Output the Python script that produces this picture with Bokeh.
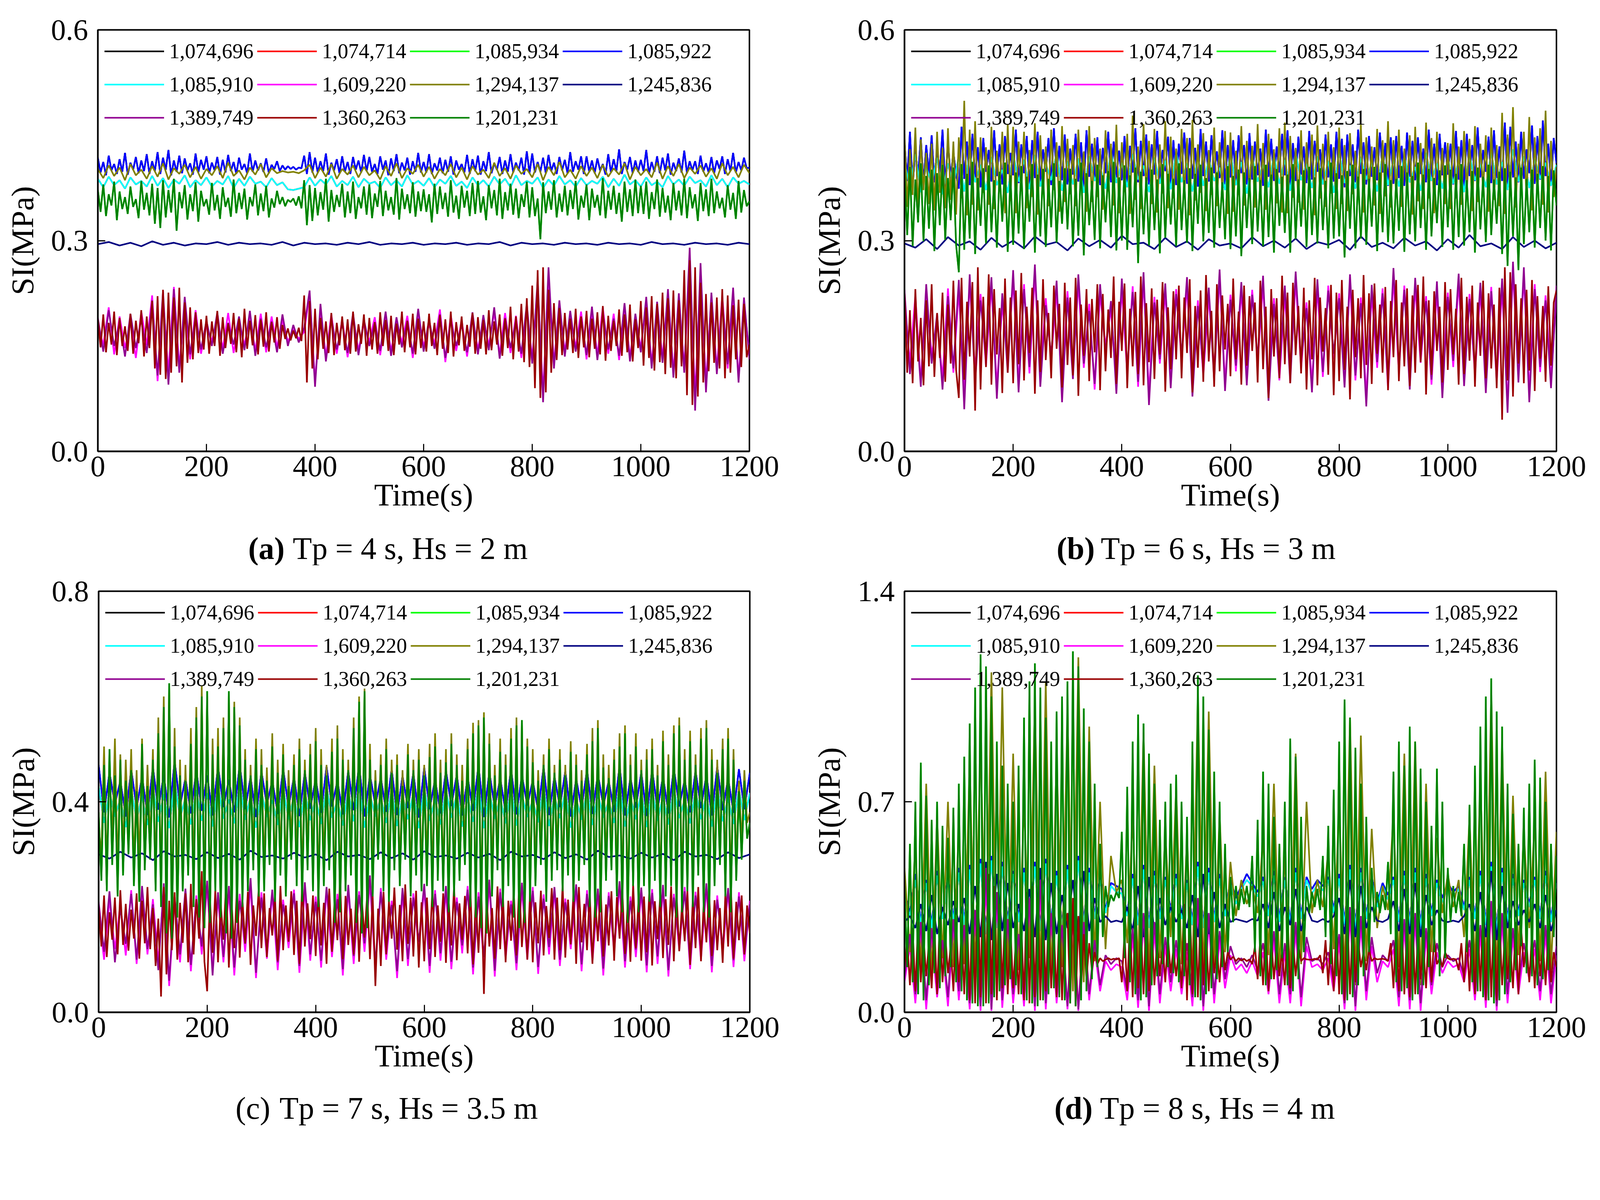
import numpy as np
from bokeh.plotting import figure
from bokeh.models import Range1d, Legend, LegendItem, Label, PrintfTickFormatter, FixedTicker
from bokeh.layouts import column, row
from bokeh.embed import file_html
from bokeh.resources import INLINE

FONT = "Liberation Serif"
S = 0.947  # overall layout scale


def sz(v):
    return int(round(v * S))


def fpx(v):
    return f"{v * S:.0f}px"


# element ids (legend order) and colours
ELEMENTS = ["1,074,696", "1,074,714", "1,085,934", "1,085,922", "1,085,910", "1,609,220",
            "1,294,137", "1,245,836", "1,389,749", "1,360,263", "1,201,231"]
COLORS = ["#000000", "#FF0000", "#00FF00", "#0000FF", "#00FFFF", "#FF00FF",
          "#808000", "#000080", "#900090", "#990000", "#008000"]

X_TICKS = [0, 200, 400, 600, 800, 1000, 1200]

# ---------------- values, SI in kPa (0.001 MPa) ----------------
# Each list is evenly spaced over 0-1200 s.
# (a) Tp = 4 s, Hs = 2 m
a_blue = [418,397,412,393,421,400,409,395,416,398,425,394,411,401,419,396,414,399,423,395,
          413,399,426,395,418,401,429,393,414,398,421,396,417,400,410,394,424,397,415,401,
          420,396,411,400,419,394,415,397,422,399,412,395,418,401,409,396,424,398,414,400,
          410,398,417,396,408,402,413,399,407,401,406,402,405,401,404,403,421,395,426,397,
          418,397,413,399,424,394,411,400,416,396,420,398,412,395,419,401,414,397,422,399,
          419,398,409,395,420,401,414,393,417,399,423,396,411,400,418,394,413,398,425,397,
          412,397,423,395,410,400,418,396,415,398,420,394,414,401,409,397,422,395,416,399,
          421,394,413,399,426,396,410,401,419,395,414,398,423,397,411,400,418,394,427,396,
          424,397,412,398,418,396,422,399,411,395,419,400,415,396,426,398,413,401,420,395,
          420,398,414,396,417,400,409,394,423,397,416,399,430,395,412,401,419,396,414,398,
          415,399,429,395,412,398,420,396,418,400,424,394,411,399,417,397,428,396,413,400,
          413,395,421,398,410,397,419,396,414,402,420,395,416,399,425,397,412,400,418,403,
          404]
a_olive = [402,389,407,392,404,386,409,393,401,388,406,
           391,410,387,403,395,408,390,405,388,402,
           393,406,389,411,392,400,387,404,394,409,
           390,403,396,399,397,398,396,400,408,389,
           404,391,409,388,402,394,407,390,405,393,
           400,387,406,392,410,389,403,395,408,391,
           405,388,402,393,409,390,404,387,406,394,
           401,389,411,392,403,388,407,395,402,390,
           409,386,405,393,412,390,401,388,406,392,
           404,389,408,391,403,394,410,387,405,393,
           402,390,411,388,406,392,409,389,404,395,
           407,391,403,388,410,393,405,390,408,396]
a_cyan = [388,376,391,379,386,374,390,380,385,377,392,
          378,389,375,387,381,393,376,386,379,390,
          377,385,380,392,375,388,378,391,381,384,
          376,389,379,383,373,372,374,376,390,378,
          387,380,392,377,385,379,391,376,388,381,
          384,375,390,379,386,377,393,380,385,378,
          389,376,387,381,392,378,384,375,390,379,
          386,377,391,380,388,376,393,379,385,381,
          390,375,387,378,392,380,386,377,389,379,
          385,381,391,376,388,378,394,380,386,377,
          390,379,384,376,392,380,387,378,391,382,
          386,377,393,379,388,376,390,381,385,380]
a_green = [372,341,380,335,366,350,384,329,370,345,362,338,377,348,359,332,385,344,368,336,
           381,324,375,318,386,333,372,340,388,314,369,346,379,330,366,342,383,327,371,349,
           359,337,382,343,365,331,376,348,361,334,387,339,368,345,374,330,362,349,380,336,
           367,342,378,333,360,347,371,352,362,349,358,355,360,350,363,346,386,322,379,328,
           375,336,369,344,388,327,372,341,365,348,381,333,370,339,384,331,362,346,377,337,
           380,332,367,348,385,335,371,343,362,337,389,330,374,345,366,339,383,334,370,342,
           373,341,366,326,381,338,377,345,368,334,386,340,364,331,378,347,371,335,382,338,
           385,340,363,329,379,346,372,336,388,331,369,343,381,337,374,332,366,348,384,333,
           376,335,360,302,383,339,370,344,386,333,367,341,378,336,372,345,385,330,364,347,
           380,329,374,347,365,336,389,332,371,344,378,338,368,327,384,341,373,335,387,339,
           378,338,384,331,369,345,387,334,375,340,364,329,382,343,371,336,388,332,376,346,
           366,328,382,342,373,335,388,339,370,346,361,333,379,344,368,331,385,340,372,349,
           356]
a_navy = [295,298,293,297,292,299,294,297,293,296,295,298,294,297,295,296,294,298,293,297,
          295,296,294,297,295,298,294,296,295,297,294,296,295,297,294,296,295,298,293,297,
          295,296,294,297,295,296,294,297,295,296,294,298,295,296,294,297,295,296,294,297,295]
a_purple = [190,142,201,150,184,135,196,147,188,140,215,
            108,228,95,231,112,220,138,193,145,186,
            150,198,139,183,152,192,144,200,136,189,
            148,185,141,195,150,180,155,176,229,92,
            210,128,190,145,182,140,197,137,188,150,
            184,143,199,136,191,148,186,139,203,142,
            188,146,195,133,187,150,180,141,198,138,
            194,144,205,132,190,147,186,139,210,125,
            245,70,262,118,215,135,200,142,192,137,
            206,130,198,145,189,136,211,128,196,141,
            220,118,213,126,231,105,225,112,290,58,
            268,84,226,110,215,124,233,98,219,131]
a_wine = [188,148,195,141,183,152,199,137,190,150,178,143,196,139,186,154,201,135,192,147,
          214,118,221,109,230,103,226,112,219,121,233,98,212,126,205,131,198,140,188,145,
          193,139,185,150,200,136,191,147,182,153,197,141,189,134,203,146,186,151,194,138,
          187,149,198,142,184,155,191,146,180,160,175,158,172,161,176,157,222,98,214,118,
          203,131,190,146,185,140,197,137,183,151,192,144,188,139,199,142,181,153,195,136,
          190,145,184,139,198,150,187,143,193,137,182,152,199,141,186,148,196,138,189,147,
          185,142,196,150,183,137,194,146,188,140,199,135,184,151,192,143,180,149,197,139,
          191,146,187,138,201,144,185,152,195,136,189,147,206,131,192,142,210,127,218,120,
          236,90,258,76,262,84,230,112,211,130,204,137,197,145,189,140,203,133,192,148,
          200,134,189,146,198,138,207,129,193,143,186,150,202,136,195,141,209,128,188,147,
          214,122,205,133,221,115,210,127,226,110,218,119,229,104,215,121,258,80,272,66,
          262,78,240,98,224,114,212,126,219,118,231,104,222,112,208,131,216,120,210,134,
          152]
a_magenta = [178,152,205,138,192,147,183,133,199,151,222,
             100,218,112,234,120,209,131,201,139,179,
             157,190,146,197,140,184,151,193,143,196,
             141,192,148,187,156,174,160,170,224,99,
             202,135,195,139,188,134,190,144,181,156,
             191,137,192,143,184,155,193,133,196,149,
             181,153,202,127,194,143,187,135,191,145,
             187,151,198,138,197,140,193,133,203,132,
             236,82,250,125,208,142,193,148,199,131,
             199,137,205,139,196,130,204,135,189,147,
             213,125,206,133,224,112,218,119,262,80,
             251,97,219,117,222,118,226,105,212,138]

# (b) Tp = 6 s, Hs = 3 m
b_blue = [440,385,455,378,428,392,447,381,436,395,450,383,431,397,458,376,442,389,426,394,
          374,462,388,441,379,452,390,433,376,446,398,429,384,457,392,437,380,449,395,425,
          393,458,382,437,396,449,377,443,389,455,384,430,398,446,379,460,391,435,386,451,
          380,431,394,452,384,440,375,457,391,438,388,447,379,432,396,455,383,441,390,428,
          386,449,378,435,397,460,383,442,392,451,380,437,394,456,387,429,399,448,376,443,
          379,438,395,454,381,446,388,432,377,459,392,441,384,450,396,427,389,457,380,436,
          390,443,384,450,396,436,380,453,387,441,393,431,378,458,391,445,385,434,397,452,
          393,457,379,439,385,448,394,434,382,456,387,442,398,430,381,451,390,437,384,455,
          388,445,376,451,392,437,383,458,395,440,380,449,391,433,386,454,397,439,378,447,
          381,449,389,435,378,454,391,442,386,447,395,431,383,458,390,438,379,452,393,440,
          394,438,380,456,387,443,377,452,392,436,385,461,390,429,398,448,382,457,389,434,
          385,468,379,462,390,441,383,455,388,430,396,464,381,449,387,471,392,438,380,446,
          410]
b_olive = [452,348,430,365,461,340,444,372,425,352,438,343,455,368,432,346,460,358,441,337,
           447,360,499,336,458,351,470,343,447,368,433,351,462,345,428,370,455,339,466,356,
           462,339,441,370,455,346,429,362,467,337,450,366,434,349,458,372,440,341,463,355,
           445,366,436,349,458,374,427,341,463,355,446,362,431,344,457,370,438,350,465,339,
           440,369,452,338,478,358,434,345,466,371,442,352,459,340,437,367,470,346,448,360,
           431,344,459,363,446,336,472,357,437,368,453,342,429,365,461,349,440,372,456,338,
           454,341,428,365,463,350,442,372,435,347,466,358,439,344,452,369,430,353,460,340,
           468,339,449,361,432,354,457,344,440,373,451,336,464,360,438,348,455,367,433,345,
           461,352,436,342,453,366,428,358,465,340,447,371,434,350,459,338,443,363,470,347,
           443,363,458,348,431,371,450,337,462,356,439,345,468,360,446,339,455,369,432,352,
           439,345,467,360,434,351,456,369,445,342,463,355,438,372,450,341,461,358,436,349,
           482,338,451,364,490,347,438,372,455,358,476,343,447,366,460,351,485,340,442,362,
           405]
b_cyan = [412,375,423,369,405,381,418,366,410,378,421,
          370,426,383,408,372,419,379,401,368,424,
          384,415,373,422,377,409,386,425,371,413,
          380,417,368,420,385,406,374,427,382,411,
          376,423,387,407,369,418,381,414,373,426,
          383,410,370,421,378,416,385,404,372,425,
          379,412,367,419,384,408,376,422,381,415,
          371,424,386,409,375,420,380,413,368,427,
          382,407,374,418,387,411,370,423,379,416,
          377,421,383,405,371,425,385,410,374,418,
          381,414,369,422,386,409,376,426,380,412,
          372,430,384,420,375,416,388,411,378,408]
b_green = [398,308,405,292,387,326,410,299,392,317,401,285,396,322,408,301,389,329,404,294,
           255,409,287,395,303,412,281,389,321,403,296,407,312,386,290,398,327,411,284,393,
           294,397,310,406,288,391,327,409,283,394,306,402,291,388,319,410,297,385,324,403,
           316,402,292,388,307,411,279,396,322,385,301,408,289,393,326,399,305,412,286,390,
           300,407,287,393,319,404,268,398,309,390,293,401,315,387,282,409,304,395,323,388,
           292,410,315,386,297,403,285,395,324,408,299,389,311,404,290,397,318,383,302,406,
           288,392,306,401,278,397,318,389,295,406,313,386,292,408,305,394,283,402,321,391,
           311,394,283,409,302,387,320,400,291,405,308,390,296,403,315,385,289,411,303,396,
           306,393,276,399,317,408,289,391,303,402,294,388,320,405,285,397,312,409,298,386,
           296,388,314,406,284,397,309,392,299,411,318,394,287,402,306,389,325,400,291,407,
           319,401,287,395,305,409,293,386,312,399,283,404,316,391,298,408,308,387,324,398,
           281,403,264,398,306,390,258,404,295,388,312,401,290,395,318,406,300,392,286,400,
           350]
b_navy = [296,290,302,288,305,293,299,287,304,291,300,289,306,294,298,286,303,292,301,290,
          307,295,297,288,304,291,299,287,302,293,296,289,305,292,300,290,303,288,298,294,
          301,287,306,291,297,289,304,293,299,286,302,290,308,292,296,288,305,291,300,289,297]
b_purple = [230,110,205,92,238,125,196,88,221,118,244,
            60,252,98,215,130,248,75,225,112,258,
            84,231,120,266,92,208,136,243,70,219,
            103,252,125,200,96,238,140,214,82,246,
            118,227,99,255,66,212,131,239,90,224,
            137,248,78,207,115,233,101,259,86,216,
            122,241,94,223,133,250,72,210,109,236,
            97,256,126,204,84,245,113,229,139,218,
            91,252,108,211,64,237,127,225,95,261,
            119,230,88,247,134,214,102,242,76,220,
            129,253,93,217,116,240,83,228,106,246,
            55,270,98,262,70,231,120,215,90,236]
b_wine = [224,112,201,97,231,128,190,94,215,121,238,106,197,133,226,99,209,125,243,116,
          76,247,102,213,135,241,58,262,88,220,120,252,95,231,138,204,83,246,112,219,
          97,229,124,254,101,206,140,233,82,215,113,245,130,197,104,236,146,210,91,240,
          123,219,108,247,79,209,136,231,100,217,141,238,87,224,114,202,133,249,96,213,
          143,239,90,203,121,227,110,249,94,211,127,232,103,216,138,241,85,205,117,228,
          131,236,104,219,140,245,84,207,119,229,99,251,128,200,92,238,114,222,145,210,
          107,246,131,199,95,236,122,221,143,212,98,243,117,206,76,231,135,218,104,250,
          124,226,97,240,137,207,111,233,88,215,131,247,94,219,142,204,109,237,80,226,
          100,244,116,206,74,230,134,218,104,251,123,225,96,239,139,209,112,234,87,214,
          134,244,100,212,121,232,93,222,112,237,127,249,81,215,109,228,143,206,98,241,
          116,231,138,203,95,247,110,220,129,236,92,212,136,243,104,225,118,209,90,233,
          45,262,101,255,78,238,125,218,97,230,115,244,86,221,132,207,99,235,122,212,
          229]
b_magenta = [215,126,222,98,226,137,185,104,232,112,229,
             81,240,115,224,122,236,92,210,127,244,
             96,238,111,251,109,218,130,229,85,228,
             117,239,119,210,88,224,151,202,97,231,
             110,235,92,243,82,220,125,226,104,231,
             130,236,91,215,108,220,116,246,97,223,
             114,229,108,230,126,238,87,218,101,222,
             108,243,118,212,96,232,106,236,131,225,
             102,240,101,219,78,224,119,232,89,247,
             112,236,99,234,126,221,95,229,90,226,
             120,240,106,224,109,228,97,234,99,232,
             68,256,110,248,84,238,113,222,100,223]

# (c) Tp = 7 s, Hs = 3.5 m
c_olive = [350,300,505,270,470,320,520,265,490,300,480,330,500,270,460,280,520,300,470,320,
           500,260,560,230,600,190,615,180,540,230,480,250,470,290,540,250,580,220,620,200,
           600,190,520,260,540,220,560,190,600,180,590,200,560,240,500,260,470,300,520,260,
           500,270,465,310,530,250,480,290,510,260,460,320,490,280,520,250,480,300,510,270,
           540,230,500,280,470,300,520,210,545,220,500,260,480,290,560,210,600,190,615,200,
           510,260,460,320,490,270,520,250,480,300,490,270,460,320,510,250,480,290,500,260,
           470,280,510,240,530,290,480,260,500,220,530,250,490,280,470,310,520,240,550,210,
           555,200,570,190,530,260,470,300,520,230,490,270,540,220,560,200,545,210,520,250,
           500,270,460,310,490,250,520,280,470,300,500,260,470,290,515,250,490,280,460,310,
           510,240,540,220,555,230,490,280,470,300,500,250,530,220,545,210,490,270,530,230,
           480,270,500,250,520,280,470,230,535,260,490,270,545,220,560,230,500,260,535,240,
           490,290,540,220,555,220,500,270,480,310,520,260,540,230,500,280,440,320,460,360,
           380]
c_green = [380,250,470,230,500,280,450,220,480,260,440,300,460,240,420,210,510,270,430,290,
           480,230,530,200,580,150,625,140,505,180,450,230,440,260,510,200,560,180,600,160,
           610,170,490,230,505,180,540,150,610,140,580,170,545,200,480,230,450,270,500,220,
           470,230,440,280,505,210,455,260,490,220,430,290,470,240,500,210,460,270,490,230,
           515,200,470,240,450,270,495,170,520,190,480,230,460,260,540,170,590,150,610,160,
           480,220,440,290,470,230,500,210,455,270,470,240,430,290,490,220,460,260,480,230,
           450,240,485,200,505,250,455,230,475,190,510,220,470,250,440,280,500,200,530,180,
           545,160,560,150,510,220,450,270,495,200,470,240,520,180,545,160,555,170,505,210,
           475,240,440,280,470,210,500,250,455,270,480,230,450,260,495,210,470,250,440,280,
           490,200,515,180,540,190,465,250,445,270,480,220,505,190,530,170,470,240,505,190,
           460,240,480,210,500,250,450,200,515,220,470,240,530,180,545,190,480,230,515,200,
           470,260,520,190,540,180,480,240,455,280,500,220,520,190,480,250,420,290,440,330,
           360]
c_blue = [470,380,455,395,440,372,462,388,448,375,466,
          385,452,370,478,392,445,378,460,383,450,
          374,468,390,442,380,471,386,447,371,458,
          394,441,377,463,389,448,373,456,387,444,
          379,467,391,440,376,459,384,470,372,451,
          393,446,381,462,375,449,388,455,370,465,
          386,443,378,460,392,452,374,447,383,469,
          371,457,389,445,380,463,376,450,393,441,
          382,466,375,448,390,458,372,444,387,461,
          377,453,392,440,381,468,374,446,389,456,
          373,461,385,449,378,464,391,442,380,459,
          388,451,374,467,384,445,379,462,386,455]
c_cyan = [430,360,418,372,405,352,425,365,411,356,428,
          362,414,350,440,369,408,357,422,364,416,
          353,431,368,404,359,434,366,410,351,420,
          371,403,356,426,367,411,352,419,365,407,
          358,429,370,402,355,421,363,432,351,414,
          372,409,360,424,354,412,367,417,350,427,
          364,406,357,422,370,415,353,409,362,431,
          350,419,368,408,359,425,355,413,371,403,
          361,428,354,411,369,420,351,406,366,423,
          356,416,370,402,360,430,353,408,367,418,
          352,424,364,411,357,426,369,404,359,421,
          367,413,353,429,363,407,358,424,365,417]
c_navy = [300,292,305,294,302,289,306,296,299,291,304,293,301,290,307,295,298,292,303,294,
          300,289,305,296,299,291,304,293,302,290,306,295,298,292,303,294,301,289,305,296,
          299,291,304,293,300,290,307,295,298,292,303,294,301,289,305,296,299,291,304,293,300]
c_purple = [210,115,230,95,198,130,225,100,240,120,205,
            80,245,60,220,110,235,90,215,125,250,
            70,228,105,240,85,212,130,255,75,218,
            115,233,95,205,140,226,88,247,110,210,
            98,238,120,215,82,242,107,223,131,260,
            92,229,116,204,78,236,101,218,134,244,
            88,225,112,240,96,210,127,233,85,220,
            105,252,79,228,118,205,93,246,112,231,
            86,216,124,238,100,209,135,243,91,225,
            110,235,83,221,128,249,97,212,119,237,
            89,227,106,242,80,218,132,230,94,222,
            115,245,88,214,126,236,99,220,110,205]
c_wine = [200,125,222,105,190,138,218,110,232,128,206,117,195,140,226,102,212,131,238,120,
          198,88,178,30,238,72,212,118,228,100,208,132,226,95,244,110,215,140,268,96,
          40,220,113,233,95,205,138,248,85,210,122,241,104,214,131,229,90,203,145,236,
          122,226,105,198,146,219,98,240,118,203,134,230,109,212,92,245,125,207,139,222,
          107,230,127,208,92,235,115,216,137,253,101,221,128,197,110,239,96,214,142,226,
          101,222,50,197,88,229,110,211,140,237,119,204,97,243,130,218,106,231,85,209,
          97,218,120,233,105,203,134,226,94,213,127,240,99,207,138,221,112,235,91,216,
          113,245,35,221,125,198,102,239,120,224,95,212,136,231,108,246,124,205,100,228,
          95,209,131,231,108,202,141,236,100,218,118,242,104,214,129,225,92,238,133,206,
          118,228,92,214,135,242,106,205,127,230,98,219,140,233,111,208,96,244,122,215,
          98,220,114,235,89,211,139,223,103,215,128,239,97,226,116,204,135,231,90,218,
          122,238,97,207,133,229,107,213,118,198,94,226,125,241,102,210,137,222,110,203,
          150]
c_magenta = [190,100,215,120,205,108,232,92,225,110,215,
             95,232,50,210,95,228,78,222,110,240,
             82,218,95,230,70,225,115,240,65,228,
             102,226,80,214,122,233,75,235,98,220,
             85,232,105,225,70,233,92,230,115,248,
             80,236,100,212,65,228,88,226,120,235,
             75,232,98,230,82,218,112,240,72,228,
             92,244,68,235,102,212,80,236,100,238,
             73,224,110,230,88,216,120,235,78,232,
             96,228,70,228,115,240,85,220,105,230,
             76,234,92,235,68,225,118,238,82,229,
             100,238,76,222,112,230,86,228,97,212]

# (d) Tp = 8 s, Hs = 4 m
d_green = [420,150,560,100,700,60,830,40,720,90,640,130,700,80,620,120,580,150,680,100,
           760,70,850,40,960,30,1080,20,1190,20,1150,30,1050,50,900,70,820,90,760,110,
           700,90,820,60,980,40,1100,30,1160,20,1080,40,980,60,900,80,1000,50,1050,40,
           1100,30,1200,20,1150,40,1010,70,900,110,760,150,560,250,420,350,390,370,400,380,
           600,180,750,100,900,60,990,40,960,50,860,90,760,120,640,160,700,150,760,130,
           790,100,700,120,650,90,900,50,1120,40,1050,60,940,80,800,110,700,150,560,200,
           450,300,420,340,410,360,420,350,520,200,640,120,800,90,760,110,650,140,560,180,
           700,90,910,70,850,110,650,200,420,330,400,350,410,340,520,250,620,160,740,120,
           900,60,1040,40,980,50,880,90,760,120,650,200,480,300,400,330,390,340,500,260,
           800,100,900,70,820,80,950,40,900,60,810,90,700,150,620,200,810,120,700,180,
           480,300,420,330,400,320,560,200,690,100,820,70,950,50,1050,40,1110,30,1000,40,
           950,60,760,100,660,140,560,220,680,130,760,120,840,90,780,110,700,140,560,250,
           520]
d_olive = [480,200,560,140,760,110,650,180,700,150,620,
           160,820,120,900,90,1130,70,1080,110,860,
           140,700,180,1030,100,1100,80,860,150,1000,
           70,1180,100,950,170,700,210,520,400,440,
           230,650,140,930,110,820,180,600,250,750,
           160,580,110,1060,90,1000,140,660,200,500,
           320,440,360,420,330,580,190,760,140,520,
           120,860,160,700,330,440,350,540,210,700,
           110,980,90,920,170,610,280,420,340,660,
           150,860,120,900,90,760,200,580,330,460,
           350,440,250,650,140,780,110,1060,80,900,
           130,720,190,600,280,640,170,800,140,600]
d_blue = [400,330,460,300,440,290,470,320,450,310,480,
          300,490,280,510,270,520,290,500,300,470,
          310,480,290,500,280,510,300,470,290,490,
          280,520,300,480,320,450,340,430,420,410,
          330,460,300,490,290,470,320,450,340,460,
          320,440,300,500,290,480,310,460,330,440,
          380,420,460,430,400,450,330,470,310,450,
          300,480,320,450,410,440,420,450,340,460,
          300,490,290,480,320,450,360,430,390,450,
          310,470,300,480,290,460,330,440,380,430,
          400,420,350,450,320,470,300,500,280,480,
          310,460,330,440,360,450,320,470,310,440]
d_cyan = [380,320,440,290,430,280,455,310,440,300,465,
          290,475,270,495,260,505,280,485,290,460,
          300,465,280,485,270,495,290,455,280,475,
          270,505,290,465,310,440,330,420,400,395,
          320,445,290,475,280,455,310,440,330,445,
          310,430,290,485,280,465,300,445,320,430,
          360,410,440,420,385,435,320,455,300,440,
          290,465,310,440,395,425,405,440,330,445,
          290,475,280,465,310,440,350,420,375,440,
          300,455,290,465,280,445,320,430,365,420,
          385,410,340,440,310,455,290,485,270,465,
          300,445,320,430,350,440,310,455,300,430]
d_navy = [300,320,280,360,270,390,260,350,290,370,300,
          380,260,420,250,500,240,460,270,430,280,
          360,270,410,250,480,240,430,260,390,280,
          440,250,470,270,380,300,320,300,305,300,
          350,270,420,250,450,260,380,290,350,300,
          340,280,390,250,460,260,400,280,360,300,
          310,305,300,310,305,360,280,400,270,350,
          290,410,270,350,305,300,310,300,320,380,
          260,440,250,420,280,350,305,300,310,370,
          270,410,260,430,250,390,290,340,305,300,
          305,300,320,360,270,400,250,470,240,420,
          280,370,290,340,300,360,280,390,270,340]
d_purple = [120,260,60,300,40,280,80,240,50,310,70,
            290,30,340,20,480,10,400,40,310,60,
            260,50,380,20,440,30,330,60,290,20,
            350,10,300,60,240,90,190,160,180,170,
            70,280,40,330,20,300,60,250,100,240,
            90,230,50,380,20,330,60,270,110,220,
            160,180,150,190,140,230,90,270,60,230,
            60,300,50,250,170,180,160,200,100,260,
            30,350,20,320,70,250,130,190,170,240,
            50,310,40,330,30,280,90,230,150,190,
            170,180,120,240,70,290,40,370,20,330,
            60,280,90,230,130,240,70,290,60,220]
d_wine = [150,240,90,280,70,300,100,250,120,230,80,290,60,310,100,260,130,220,70,300,
          100,270,60,330,40,360,30,420,50,500,30,460,60,420,40,360,80,330,60,280,
          80,240,60,300,40,400,30,420,50,380,40,350,70,300,80,270,50,330,40,290,
          330,30,380,20,320,80,260,110,230,140,200,160,180,170,175,180,175,178,176,180,
          100,260,70,310,50,320,80,290,60,330,70,280,90,240,120,230,100,250,130,210,
          120,210,80,360,40,350,60,380,50,340,90,280,70,250,130,210,100,240,140,200,
          175,185,170,180,172,178,170,176,160,220,110,250,90,280,70,250,110,220,120,200,
          90,280,80,240,120,220,170,180,176,175,175,178,175,190,130,240,90,270,70,300,
          60,330,40,340,60,310,100,240,150,200,140,210,170,180,176,177,178,176,170,230,
          80,290,70,310,60,280,50,320,60,260,110,220,80,280,100,250,160,180,150,200,
          180,175,178,176,140,230,100,270,70,300,60,330,70,350,40,360,50,340,40,310,
          90,260,110,220,80,300,60,280,150,230,100,270,80,250,120,230,90,260,100,200,
          150]
d_magenta = [100,220,30,270,10,250,50,210,20,280,40,
             250,10,300,5,420,5,360,15,270,30,
             220,20,340,5,400,10,300,30,250,10,
             310,5,270,40,210,70,170,140,160,150,
             40,250,15,300,5,270,30,220,70,210,
             60,200,20,340,5,300,30,240,80,190,
             140,160,130,170,120,200,60,240,30,200,
             30,270,20,220,150,160,140,180,70,230,
             10,320,5,290,40,220,100,170,150,210,
             20,280,10,300,5,250,60,200,130,170,
             150,160,100,210,40,260,15,340,5,300,
             30,250,60,200,110,210,40,260,30,190]


def panel_series(blue, cyan, green, magenta, olive, navy, purple, wine):
    # 1,074,696 / 1,074,714 / 1,085,934 are fully hidden under other curves in the
    # original; they are drawn with the curves that cover them.
    return {"1,074,696": blue, "1,074,714": cyan, "1,085,934": green,
            "1,085,922": blue, "1,085,910": cyan, "1,609,220": magenta,
            "1,294,137": olive, "1,245,836": navy, "1,389,749": purple,
            "1,360,263": wine, "1,201,231": green}


PANEL_W = 2152


def make_panel(series, ymax, yticks, borders, height):
    bl, br, bt, bb = borders
    p = figure(width=sz(PANEL_W), height=sz(height), x_range=Range1d(0, 1200), y_range=Range1d(0, ymax),
               output_backend="svg", toolbar_location=None,
               min_border_left=sz(bl), min_border_right=sz(br),
               min_border_top=sz(bt), min_border_bottom=sz(bb))
    p.grid.visible = False
    p.outline_line_color = "black"
    p.outline_line_width = 4 * S
    items = []
    for name, color in zip(ELEMENTS, COLORS):
        vals = np.array(series[name], dtype=float) / 1000.0
        t = np.linspace(0, 1200, len(vals))
        r = p.line(t, vals, line_color=color, line_width=4.4 * S)
        items.append(LegendItem(label=name, renderers=[r]))
    leg = Legend(items=items, location="top_left", orientation="horizontal", ncols=4,
                 label_text_font=FONT, label_text_font_size=fpx(57), label_text_color="black",
                 glyph_width=sz(162), glyph_height=sz(80), label_height=sz(80),
                 label_standoff=sz(14), spacing=sz(10), margin=sz(6), padding=sz(12),
                 background_fill_alpha=0, border_line_alpha=0)
    p.add_layout(leg)

    p.xaxis.ticker = FixedTicker(ticks=X_TICKS)
    p.yaxis.ticker = FixedTicker(ticks=yticks)
    p.yaxis.formatter = PrintfTickFormatter(format="%.1f")
    p.xaxis.axis_label = "Time(s)"
    p.yaxis.axis_label = "SI(MPa)"
    for ax in (p.xaxis[0], p.yaxis[0]):
        ax.axis_line_width = 4 * S
        ax.axis_line_color = "black"
        ax.major_tick_in = sz(20)
        ax.major_tick_out = 0
        ax.minor_tick_in = 0
        ax.minor_tick_out = 0
        ax.major_tick_line_width = 3 * S
        ax.major_tick_line_color = "black"
        ax.major_label_text_font = FONT
        ax.major_label_text_font_size = fpx(80)
        ax.major_label_text_color = "black"
        ax.axis_label_text_font = FONT
        ax.axis_label_text_font_size = fpx(86)
        ax.axis_label_text_font_style = "normal"
        ax.axis_label_text_color = "black"
    p.xaxis.major_label_standoff = sz(14)
    p.xaxis.axis_label_standoff = 0
    p.yaxis.major_label_standoff = sz(26)
    p.yaxis.axis_label_standoff = sz(26)
    return p


def make_caption(tag, tag_bold, text, tag_right, text_left, height, cy):
    c = figure(width=sz(PANEL_W), height=sz(height), x_range=Range1d(0, PANEL_W),
               y_range=Range1d(0, height), output_backend="svg", toolbar_location=None,
               x_axis_type=None, y_axis_type=None, min_border=0)
    c.grid.visible = False
    c.outline_line_color = None
    c.add_layout(Label(x=tag_right, y=height - cy, text=tag, text_font=FONT,
                       text_font_size=fpx(84), text_color="black",
                       text_font_style="bold" if tag_bold else "normal",
                       text_align="right", text_baseline="middle"))
    c.add_layout(Label(x=text_left, y=height - cy, text=text, text_font=FONT,
                       text_font_size=fpx(84), text_color="black",
                       text_align="left", text_baseline="middle"))
    return c


pa = make_panel(panel_series(a_blue, a_cyan, a_green, a_magenta, a_olive, a_navy, a_purple, a_wine),
                0.6, [0.0, 0.3, 0.6], (264, 127, 80, 200), 1419)
pb = make_panel(panel_series(b_blue, b_cyan, b_green, b_magenta, b_olive, b_navy, b_purple, b_wine),
                0.6, [0.0, 0.3, 0.6], (292, 97, 80, 200), 1419)
pc = make_panel(panel_series(c_blue, c_cyan, c_green, c_magenta, c_olive, c_navy, c_purple, c_wine),
                0.8, [0.0, 0.4, 0.8], (266, 126, 70, 200), 1408)
pd = make_panel(panel_series(d_blue, d_cyan, d_green, d_magenta, d_olive, d_navy, d_purple, d_wine),
                1.4, [0.0, 0.7, 1.4], (292, 97, 70, 200), 1408)

ca = make_caption("(a)", True, "Tp = 4 s, Hs = 2 m", 769, 791, 109, 63)
cb = make_caption("(b)", True, "Tp = 6 s, Hs = 3 m", 807, 823, 109, 63)
cc = make_caption("(c)", False, "Tp = 7 s, Hs = 3.5 m", 730, 755, 120, 59)
cd = make_caption("(d)", True, "Tp = 8 s, Hs = 4 m", 801, 821, 120, 59)

layout = column(row(pa, pb), row(ca, cb), row(pc, pd), row(cc, cd))
open("out.html", "w").write(file_html(layout, INLINE))
